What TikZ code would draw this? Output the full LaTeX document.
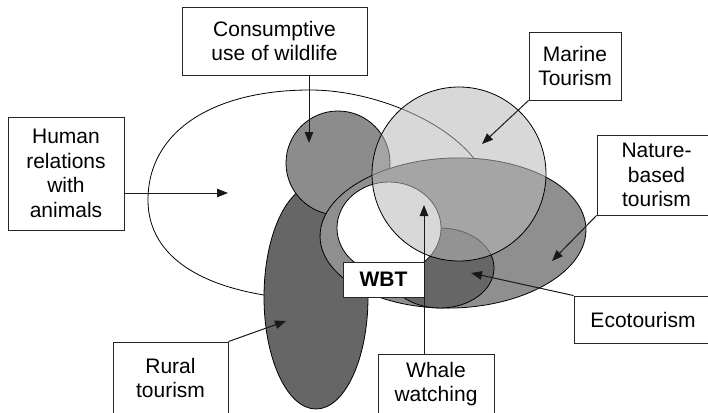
\documentclass[tikz,border=0pt]{standalone}
\usepackage{fontspec}
\setmainfont{Liberation Sans}
\usetikzlibrary{arrows.meta}
\begin{document}
\begin{tikzpicture}[x=1pt,y=-1pt,
  outline/.style={draw=black, line width=0.8pt},
  labelbox/.style={draw=black!85, line width=0.9pt, fill=white, align=center,
    inner sep=0pt, font=\fontsize{21}{24.5}\selectfont},
  pointer/.style={draw=black!90, line width=1pt, -{Triangle[length=11pt,width=8.5pt]}},
]
\path[use as bounding box, clip] (0,0) rectangle (708,412);

% human relations with animals (egg-shaped, wide end on the left)
\draw[outline, fill=white] (148,200)
  .. controls (148,130) and (215,90) .. (310,90)
  .. controls (390,90) and (490,140) .. (490,200)
  .. controls (490,260) and (400,300) .. (330,300)
  .. controls (230,300) and (148,270) .. (148,200) -- cycle;

% rural tourism
\draw[outline, fill=black!60] (316,297) ellipse [x radius=52, y radius=112];

% consumptive use of wildlife
\draw[outline, fill=black!45] (338,163) circle [radius=52];

% nature-based tourism
\draw[outline, fill=black!44, rotate around={2:(453,233)}] (453,233) ellipse [x radius=133, y radius=75];

% ecotourism
\draw[outline, fill=black!60] (440,268) ellipse [x radius=54, y radius=40];

% whale watching hole
\draw[outline, fill=white] (389,228) ellipse [x radius=52, y radius=46];

% marine tourism
\draw[outline, fill=black!28, fill opacity=0.55] (459,174) circle [radius=87];

% labels
\node[labelbox, font=\fontsize{21}{24.5}\selectfont\bfseries, minimum width=81pt, minimum height=35pt] (wbt) at (383.5,279.5) {WBT};
\node[labelbox, minimum width=185pt, minimum height=68pt] (cons) at (274.5,41) {Consumptive\\use of wildlife};
\node[labelbox, minimum width=116pt, minimum height=113pt] (human) at (66,173.5) {Human\\relations\\with\\animals};
\node[labelbox, minimum width=92pt, minimum height=68pt] (marine) at (575,66) {Marine\\Tourism};
\node[labelbox, minimum width=119pt, minimum height=80pt] (nature) at (656.5,175) {Nature-\\based\\tourism};
\node[labelbox, minimum width=138pt, minimum height=47pt] (eco) at (643,319.5) {Ecotourism};
\node[labelbox, minimum width=116pt, minimum height=60pt] (whale) at (436,384) {Whale\\watching};
\node[labelbox, minimum width=115pt, minimum height=72pt] (rural) at (170.5,378) {Rural\\tourism};

% arrow targets
\coordinate (consTip) at (309,143);
\coordinate (humanTip) at (228,193);
\coordinate (marineTip) at (482,144);
\coordinate (natureTip) at (552,261);
\coordinate (ecoTip) at (471,273);
\coordinate (whaleTip) at (424,205);
\coordinate (ruralTip) at (286,321);

\draw[pointer] (cons.south -| consTip) -- (consTip);
\draw[pointer] (human.east |- humanTip) -- (humanTip);
\draw[pointer] (marine.south west) -- (marineTip);
\draw[pointer] (nature.south west) -- (natureTip);
\draw[pointer] (eco.north west) -- (ecoTip);
\draw[pointer] (whale.north -| whaleTip) -- (whaleTip);
\draw[pointer] (rural.north east) -- (ruralTip);
\end{tikzpicture}
\end{document}
